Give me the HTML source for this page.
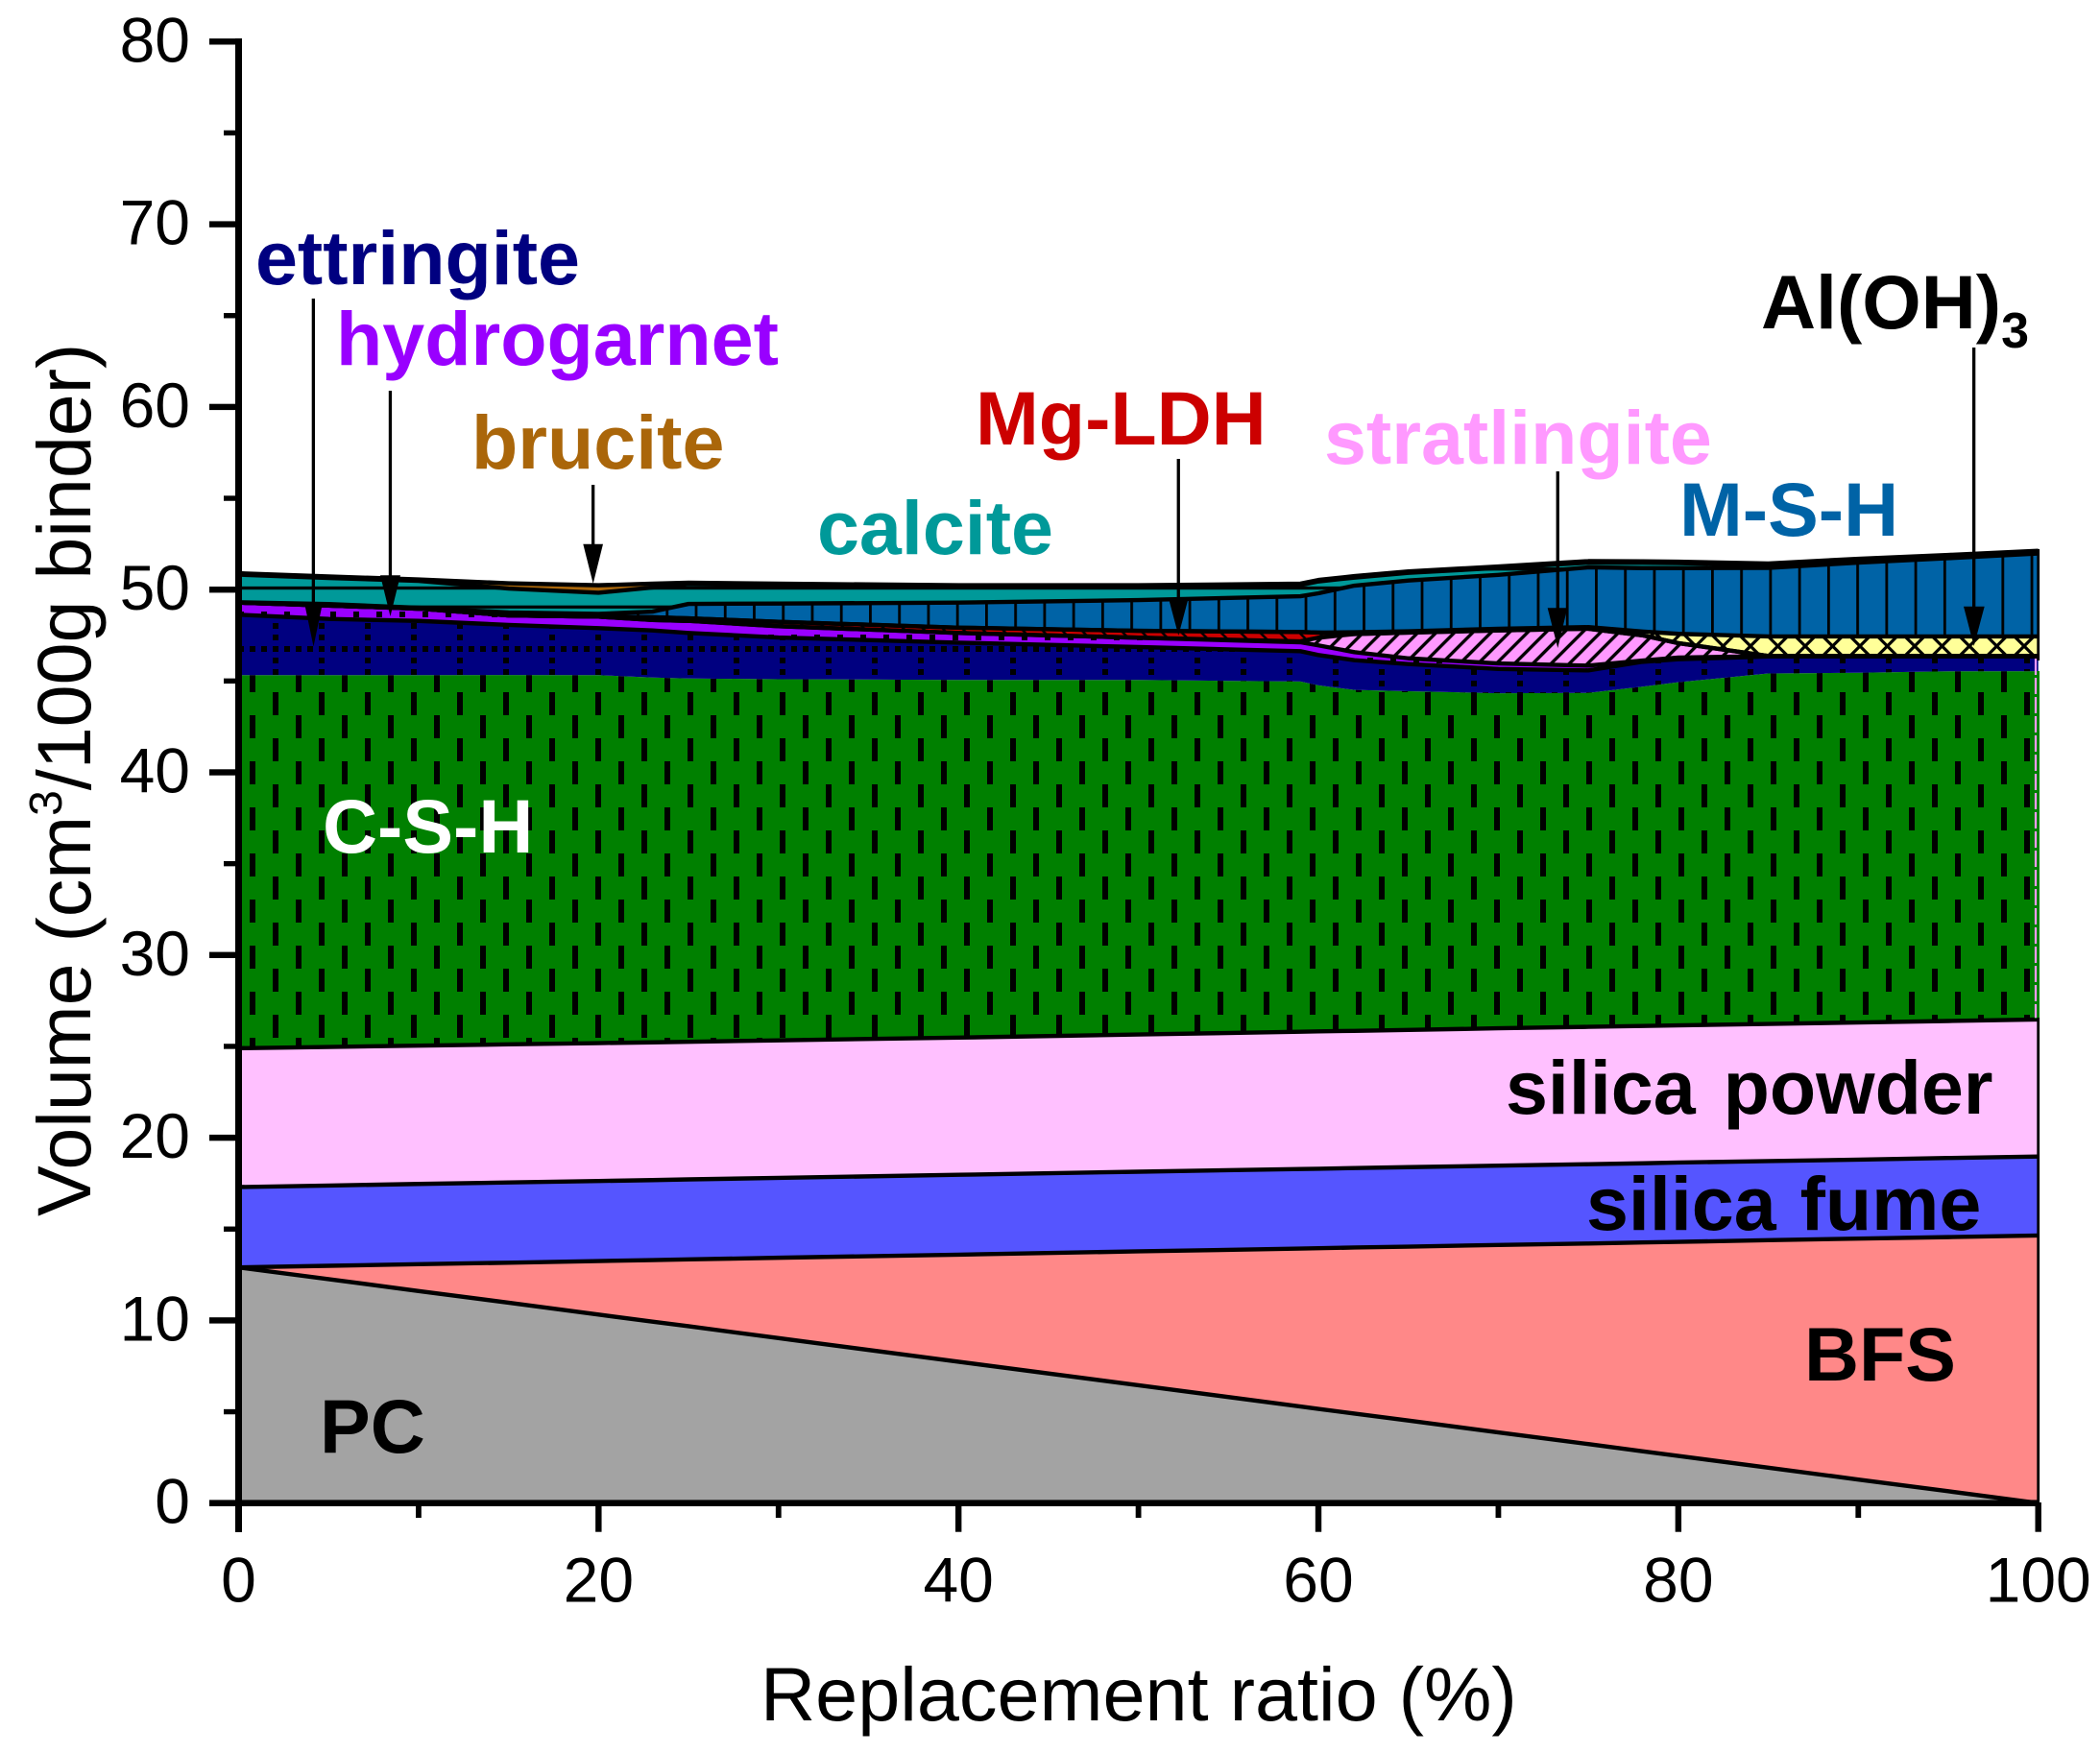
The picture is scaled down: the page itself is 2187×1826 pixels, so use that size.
<!DOCTYPE html>
<html lang="en">
<head>
<meta charset="utf-8">
<title>Volume vs replacement ratio</title>
<style>
html,body{margin:0;padding:0;background:#fff;}
svg{display:block;font-family:"Liberation Sans",Arial,sans-serif;}
</style>
</head>
<body>
<svg id="chart" xmlns="http://www.w3.org/2000/svg" width="2187" height="1826" viewBox="0 0 2187 1826">
  <defs>
    <pattern id="hatch-csh" patternUnits="userSpaceOnUse" x="260" y="745" width="48" height="48">
      <rect x="0" y="0" width="6" height="24" fill="#000"/>
      <rect x="24" y="24" width="6" height="24" fill="#000"/>
    </pattern>
    <pattern id="hatch-ettringite" patternUnits="userSpaceOnUse" x="284" y="673" width="48" height="48">
      <rect x="0" y="0" width="6" height="6" fill="#000"/>
      <rect x="12" y="0" width="6" height="6" fill="#000"/>
      <rect x="24" y="0" width="6" height="6" fill="#000"/>
      <rect x="36" y="0" width="6" height="6" fill="#000"/>
      <rect x="0" y="12" width="6" height="6" fill="#000"/>
      <rect x="0" y="24" width="6" height="6" fill="#000"/>
      <rect x="0" y="36" width="6" height="6" fill="#000"/>
    </pattern>
    <pattern id="hatch-hydrogarnet" patternUnits="userSpaceOnUse" x="344" y="637" width="24" height="24">
      <rect x="0" y="0" width="6" height="6" fill="#000"/>
    </pattern>
    <pattern id="hatch-stratlingite" patternUnits="userSpaceOnUse" x="7.6" y="0" width="19" height="19">
      <path d="M-2,21 L21,-2 M-2,2 L2,-2 M17,21 L21,17" stroke="#000" stroke-width="3.4" fill="none"/>
    </pattern>
    <pattern id="hatch-mgldh" patternUnits="userSpaceOnUse" x="0.6" y="0" width="20.4" height="20.4">
      <path d="M-2,-2 L22.4,22.4 M-2,18.4 L2,22.4 M18.4,-2 L22.4,2" stroke="#000" stroke-width="2.5" fill="none"/>
    </pattern>
    <pattern id="hatch-aloh3" patternUnits="userSpaceOnUse" x="1880" y="673" width="28.5" height="28.5">
      <path d="M-2,-2 L30.5,30.5 M-2,30.5 L30.5,-2" stroke="#000" stroke-width="3.2" fill="none"/>
    </pattern>
    <pattern id="hatch-msh" patternUnits="userSpaceOnUse" x="723.6" y="0" width="30.24" height="40">
      <rect x="0" y="0" width="2.8" height="40" fill="#000"/>
    </pattern>
    <pattern id="hatch-calcite" patternUnits="userSpaceOnUse" x="0" y="610.85" width="40" height="19.8">
      <rect x="0" y="0" width="40" height="3.3" fill="#000"/>
    </pattern>
  </defs>
  <g id="layers"></g>
  <g id="edge">
    <rect x="2119" y="699" width="5" height="362" fill="#008000"/>
    <line x1="2120" y1="686" x2="2120" y2="1060" stroke="#ff99ff" stroke-width="2.2" stroke-dasharray="17 3"/>
    <line x1="2122.7" y1="572" x2="2122.7" y2="688" stroke="#000" stroke-width="2.8"/>
    <line x1="2122.7" y1="1060" x2="2122.7" y2="1566" stroke="#000" stroke-width="2.8"/>
  </g>
  <g id="axes"></g>

  <g font-weight="bold" font-size="79">
    <text x="266" y="296" fill="#000080">ettringite</text>
    <text x="350" y="380" fill="#9900ff">hydrogarnet</text>
    <text x="491" y="488" fill="#aa660a">brucite</text>
    <text x="851" y="577" fill="#009999">calcite</text>
    <text x="1016" y="463" fill="#cc0000">Mg-LDH</text>
    <text x="1379" y="483" fill="#ff99ff">stratlingite</text>
    <text x="1749" y="558" fill="#0063a6">M-S-H</text>
    <text x="1834" y="342" fill="#000">Al(OH)<tspan font-size="52" dy="20">3</tspan></text>
    <text x="336" y="888" fill="#ffffff">C-S-H</text>
    <text x="1568" y="1160" word-spacing="7" fill="#000">silica powder</text>
    <text x="1652" y="1281" word-spacing="3" fill="#000">silica fume</text>
    <text x="1879" y="1438" fill="#000">BFS</text>
    <text x="333" y="1513" fill="#000">PC</text>
  </g>

  <g fill="#000" stroke="none">
    <g><rect x="324.7" y="311" width="3.3" height="320"/><polygon points="317,628 336,628 326.5,673.5"/></g>
    <g><rect x="404.8" y="407" width="3.3" height="195"/><polygon points="396,599.3 417,599.3 406.5,642"/></g>
    <g><rect x="616" y="505" width="3.3" height="65"/><polygon points="607.3,566.7 628,566.7 617.7,608"/></g>
    <g><rect x="1225.6" y="478" width="3.3" height="148"/><polygon points="1217,623.3 1237.6,623.3 1227.3,662"/></g>
    <g><rect x="1620.6" y="491" width="3.3" height="145"/><polygon points="1611.7,633.3 1632.3,633.3 1622.3,675"/></g>
    <g><rect x="2054" y="362" width="3.3" height="272"/><polygon points="2045,631.7 2066.7,631.7 2055.7,673"/></g>
  </g>

  <text x="792" y="1792" font-size="79.2" fill="#000">Replacement ratio (%)</text>
  <text transform="translate(94 1267) rotate(-90)" font-size="79" fill="#000">Volume (cm<tspan font-size="48" dy="-30">3</tspan><tspan dy="30">/100g binder)</tspan></text>
</svg>
<script>
// replacement ratio (%) at which the layers were read
const categories = [0,5,10,15,20,23,25,30,40,50,59,60,62,65,70,75,78,80,85,90,95,100];
// cumulative top of each stacked layer, cm3/100g binder
const pcTop        = [12.9,12.26,11.61,10.97,10.32,9.93,9.68,9.03,7.74,6.45,5.29,5.16,4.90,4.52,3.87,3.23,2.84,2.58,1.94,1.29,0.65,0];
const bfsTop       = [12.9,12.99,13.08,13.16,13.25,13.3,13.34,13.43,13.6,13.78,13.93,13.95,13.99,14.04,14.13,14.21,14.27,14.3,14.39,14.48,14.56,14.65];
const fumeTop      = [17.3,17.38,17.47,17.55,17.63,17.68,17.72,17.8,17.97,18.14,18.29,18.3,18.34,18.39,18.47,18.55,18.6,18.64,18.72,18.8,18.89,18.97];
const powderTop    = [24.9,24.97,25.04,25.11,25.18,25.22,25.25,25.33,25.48,25.65,25.8,25.82,25.85,25.9,25.99,26.07,26.12,26.15,26.23,26.31,26.39,26.47];
const cshTop       = [45.32,45.32,45.32,45.33,45.32,45.19,45.14,45.10,45.06,45.06,44.97,44.76,44.51,44.44,44.33,44.35,44.69,44.93,45.41,45.45,45.53,45.54];
const ettringiteTop= [48.63,48.40,48.29,48.07,47.89,47.77,47.63,47.38,47.10,46.86,46.63,46.42,46.14,45.93,45.66,45.58,46.05,46.19,46.34,46.34,46.34,46.34];
const hydrogarnetTop=[49.29,49.13,48.96,48.59,48.52,48.34,48.29,48.00,47.63,47.37,47.12,46.95,46.58,46.24,45.96,45.84,46.12,46.28,46.36,46.36,46.36,46.36];
const stratlingiteTop=[49.29,49.13,48.96,48.59,48.52,48.34,48.29,48.00,47.63,47.37,47.17,47.37,47.57,47.65,47.77,47.86,47.50,47.07,46.37,46.37,46.37,46.37];
const mgLdhTop     = [49.29,49.13,48.96,48.59,48.52,48.49,48.43,48.24,47.92,47.75,47.68,47.65,47.57,47.65,47.77,47.86,47.50,47.07,46.37,46.37,46.37,46.37];
const alOh3Top     = [49.29,49.13,48.96,48.59,48.52,48.49,48.43,48.24,47.92,47.75,47.68,47.65,47.67,47.72,47.86,47.95,47.71,47.58,47.44,47.44,47.44,47.44];
const mshTop       = [49.31,49.21,49.01,48.75,48.67,48.80,49.22,49.24,49.29,49.43,49.64,49.80,50.22,50.50,50.81,51.22,51.18,51.18,51.19,51.48,51.72,51.98];
const calciteTop   = [50.82,50.64,50.48,50.06,49.83,50.12,50.30,50.25,50.16,50.16,50.25,50.45,50.66,50.92,51.19,51.48,51.47,51.45,51.35,51.60,51.82,52.05];
const bruciteTop   = [50.90,50.72,50.56,50.35,50.24,50.33,50.38,50.33,50.24,50.24,50.33,50.53,50.74,51.00,51.27,51.56,51.55,51.53,51.43,51.69,51.90,52.13];
// axis tick values
const xMajorTicks = [0,20,40,60,80,100];
const xMinorTicks = [10,30,50,70,90];
const yMajorTicks = [0,10,20,30,40,50,60,70,80];
const yMinorTicks = [5,15,25,35,45,55,65,75];

const SVG = 'http://www.w3.org/2000/svg';
function xScale(v){ return 248.5 + v * 18.742; }
function yScale(v){ return 1565.7 - v * 19.03; }
function make(tag, attrs, parent){
  const el = document.createElementNS(SVG, tag);
  for (const k in attrs) el.setAttribute(k, attrs[k]);
  parent.appendChild(el);
  return el;
}

const layerList = [
  {id:'pc', top:pcTop, fill:'#a3a3a3', line:true},
  {id:'bfs', top:bfsTop, fill:'#ff8888', line:true},
  {id:'silica-fume', top:fumeTop, fill:'#5555ff', line:true},
  {id:'silica-powder', top:powderTop, fill:'#ffc0ff', line:true},
  {id:'c-s-h', top:cshTop, fill:'#008000', hatch:'hatch-csh', line:false},
  {id:'ettringite', top:ettringiteTop, fill:'#000080', hatch:'hatch-ettringite', line:true},
  {id:'hydrogarnet', top:hydrogarnetTop, fill:'#9900ff', hatch:'hatch-hydrogarnet', line:true},
  {id:'stratlingite', top:stratlingiteTop, fill:'#ff99ff', hatch:'hatch-stratlingite', line:true},
  {id:'mg-ldh', top:mgLdhTop, fill:'#cc0000', hatch:'hatch-mgldh', line:true},
  {id:'aloh3', top:alOh3Top, fill:'#ffff99', hatch:'hatch-aloh3', line:true},
  {id:'m-s-h', top:mshTop, fill:'#0063a6', hatch:'hatch-msh', line:true},
  {id:'calcite', top:calciteTop, fill:'#009999', hatch:'hatch-calcite', line:true},
  {id:'brucite', top:bruciteTop, fill:'#aa660a', line:true}
];

const layersGroup = document.getElementById('layers');
let lower = categories.map(function(){ return 0; });
const lineQueue = [];
layerList.forEach(function(layer){
  const upperPts = categories.map(function(c,i){ return xScale(c).toFixed(2)+','+yScale(layer.top[i]).toFixed(2); });
  const lowerPts = categories.map(function(c,i){ return xScale(c).toFixed(2)+','+yScale(lower[i]).toFixed(2); }).reverse();
  const pts = upperPts.concat(lowerPts).join(' ');
  const area = make('polygon', {points:pts, fill:layer.fill}, layersGroup);
  
  
  if (layer.hatch) {
    const hatch = make('polygon', {points:pts, fill:'url(#'+layer.hatch+')'}, layersGroup);
    
    
  }
  if (layer.line) lineQueue.push({id:layer.id, pts:upperPts.join(' ')});
  lower = layer.top;
});
lineQueue.forEach(function(item){
  const ln = make('polyline', {points:item.pts, fill:'none', stroke:'#000', 'stroke-width':4.4, 'stroke-linejoin':'round'}, layersGroup);
  
  
});

const axes = document.getElementById('axes');
const yAxis = make('rect', {x:245, y:40, width:7, height:1556, fill:'#000'}, axes);


const xAxis = make('rect', {x:218, y:1562.4, width:1906, height:6.6, fill:'#000'}, axes);



yMajorTicks.forEach(function(v){
  const t = make('rect', {x:218, y:yScale(v)-3.2, width:30, height:6.4, fill:'#000'}, axes);
  
  
  const lb = make('text', {x:198, y:yScale(v)+21, 'text-anchor':'end', 'font-size':66, fill:'#000'}, axes);
  lb.textContent = String(v);
  
  
});
yMinorTicks.forEach(function(v){
  const t = make('rect', {x:233, y:yScale(v)-2.7, width:15, height:5.4, fill:'#000'}, axes);
  
  
});
xMajorTicks.forEach(function(v){
  const t = make('rect', {x:xScale(v)-3.2, y:1565, width:6.4, height:30.7, fill:'#000'}, axes);
  
  
  const lb = make('text', {x:xScale(v), y:1668.5, 'text-anchor':'middle', 'font-size':66, fill:'#000'}, axes);
  lb.textContent = String(v);
  
  
});
xMinorTicks.forEach(function(v){
  const t = make('rect', {x:xScale(v)-2.9, y:1565, width:5.8, height:16, fill:'#000'}, axes);
  
  
});
</script>
</body>
</html>
